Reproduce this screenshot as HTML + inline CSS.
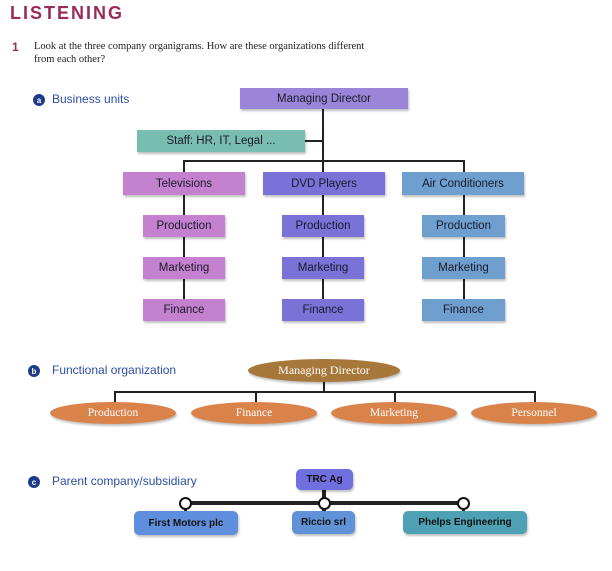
<!DOCTYPE html>
<html><head><meta charset="utf-8"><style>
body{margin:0;background:#fff;width:612px;height:571px;overflow:hidden;position:relative;font-family:"Liberation Sans",sans-serif}
.a{position:absolute}
.b{position:absolute;display:flex;align-items:center;justify-content:center;font-size:11.5px;color:#1a1a2a;box-shadow:1px 2px 2px rgba(0,0,0,.25)}
.l{position:absolute;background:#222}
.e{position:absolute;display:flex;align-items:center;justify-content:center;border-radius:50%;font-family:"Liberation Serif",serif;font-size:11.5px;color:#fff;background:#d9824a;box-shadow:1px 2px 2px rgba(0,0,0,.25)}
.r{position:absolute;display:flex;align-items:center;justify-content:center;border-radius:5px;font-size:10px;font-weight:bold;color:#111;box-shadow:1px 2px 2px rgba(0,0,0,.25)}
.bul{position:absolute;width:12px;height:12px;border-radius:50%;background:#1f3c8c;color:#fff;font-size:8px;font-weight:bold;display:flex;align-items:center;justify-content:center}
.lab{position:absolute;color:#2d4ea0;font-size:12px}
</style></head><body>
<div class="a" style="left:10px;top:3px;font-size:18px;font-weight:bold;letter-spacing:2px;color:#9b2a5a">LISTENING</div>
<div class="a" style="left:12px;top:40px;font-size:12px;font-weight:bold;color:#9b2a5a">1</div>
<div class="a" style="left:34px;top:40px;font-family:'Liberation Serif',serif;font-size:10.5px;line-height:13px;color:#222">Look at the three company organigrams. How are these organizations different<br>from each other?</div>

<div class="bul" style="left:33px;top:94px">a</div><div class="lab" style="left:52px;top:92px">Business units</div>
<div class="bul" style="left:28px;top:365px">b</div><div class="lab" style="left:52px;top:363px">Functional organization</div>
<div class="bul" style="left:28px;top:476px">c</div><div class="lab" style="left:52px;top:474px">Parent company/subsidiary</div>

<div class="l" style="left:322px;top:109px;width:2px;height:63px"></div>
<div class="l" style="left:305px;top:140px;width:18px;height:2px"></div>
<div class="l" style="left:183px;top:160px;width:282px;height:2px"></div>
<div class="l" style="left:183px;top:160px;width:2px;height:12px"></div>
<div class="l" style="left:463px;top:160px;width:2px;height:12px"></div>
<div class="l" style="left:183px;top:195px;width:2px;height:104px"></div>
<div class="l" style="left:322px;top:195px;width:2px;height:104px"></div>
<div class="l" style="left:463px;top:195px;width:2px;height:104px"></div>

<div class="b" style="left:240px;top:88px;width:168px;height:21px;background:#9b85d9">Managing Director</div>
<div class="b" style="left:137px;top:130px;width:168px;height:22px;background:#79bdb1">Staff: HR, IT, Legal ...</div>
<div class="b" style="left:123px;top:172px;width:122px;height:23px;background:#c481cf">Televisions</div>
<div class="b" style="left:263px;top:172px;width:122px;height:23px;background:#7b72d8">DVD Players</div>
<div class="b" style="left:402px;top:172px;width:122px;height:23px;background:#6e9fcf">Air Conditioners</div>

<div class="b" style="left:143px;top:215px;width:82px;height:22px;background:#c481cf">Production</div>
<div class="b" style="left:143px;top:257px;width:82px;height:22px;background:#c481cf">Marketing</div>
<div class="b" style="left:143px;top:299px;width:82px;height:22px;background:#c481cf">Finance</div>
<div class="b" style="left:282px;top:215px;width:82px;height:22px;background:#7b72d8">Production</div>
<div class="b" style="left:282px;top:257px;width:82px;height:22px;background:#7b72d8">Marketing</div>
<div class="b" style="left:282px;top:299px;width:82px;height:22px;background:#7b72d8">Finance</div>
<div class="b" style="left:422px;top:215px;width:83px;height:22px;background:#6e9fcf">Production</div>
<div class="b" style="left:422px;top:257px;width:83px;height:22px;background:#6e9fcf">Marketing</div>
<div class="b" style="left:422px;top:299px;width:83px;height:22px;background:#6e9fcf">Finance</div>

<div class="l" style="left:323px;top:380px;width:2px;height:12px"></div>
<div class="l" style="left:114px;top:391px;width:422px;height:2px"></div>
<div class="l" style="left:114px;top:391px;width:2px;height:12px"></div>
<div class="l" style="left:255px;top:391px;width:2px;height:12px"></div>
<div class="l" style="left:394px;top:391px;width:2px;height:12px"></div>
<div class="l" style="left:534px;top:391px;width:2px;height:12px"></div>
<div class="e" style="left:248px;top:359px;width:152px;height:23px;background:#a8773a;font-size:12px">Managing Director</div>
<div class="e" style="left:50px;top:402px;width:126px;height:22px">Production</div>
<div class="e" style="left:191px;top:402px;width:126px;height:22px">Finance</div>
<div class="e" style="left:331px;top:402px;width:126px;height:22px">Marketing</div>
<div class="e" style="left:471px;top:402px;width:126px;height:22px">Personnel</div>

<div class="l" style="left:322px;top:490px;width:4px;height:30px"></div>
<div class="l" style="left:185px;top:501px;width:278px;height:4px"></div>
<div class="l" style="left:184px;top:503px;width:3px;height:10px"></div>
<div class="l" style="left:462px;top:503px;width:3px;height:10px"></div>
<div class="a" style="left:179px;top:497px;width:9px;height:9px;border:2px solid #111;border-radius:50%;background:#fff"></div>
<div class="a" style="left:318px;top:497px;width:9px;height:9px;border:2px solid #111;border-radius:50%;background:#fff"></div>
<div class="a" style="left:457px;top:497px;width:9px;height:9px;border:2px solid #111;border-radius:50%;background:#fff"></div>
<div class="r" style="left:296px;top:469px;width:57px;height:21px;background:#6f6fe0">TRC Ag</div>
<div class="r" style="left:134px;top:511px;width:104px;height:24px;background:#5f8fdc">First Motors plc</div>
<div class="r" style="left:292px;top:511px;width:63px;height:23px;background:#5f92d6">Riccio srl</div>
<div class="r" style="left:403px;top:511px;width:124px;height:23px;background:#4ea0b4">Phelps Engineering</div>
</body></html>
